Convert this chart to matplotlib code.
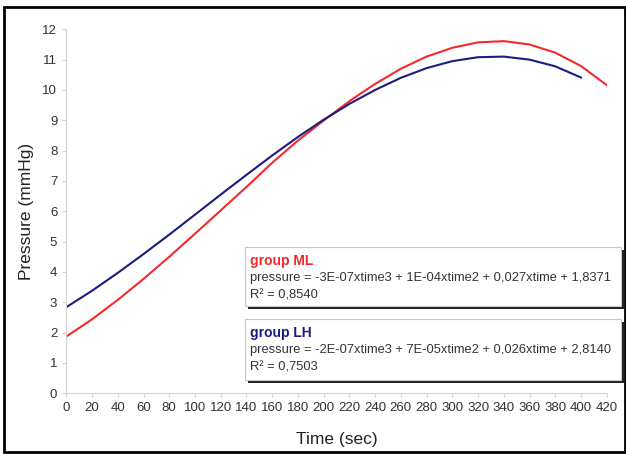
import matplotlib
matplotlib.use("Agg")
import matplotlib.pyplot as plt
from matplotlib.patches import Rectangle

plt.rcParams['font.family'] = ['Liberation Sans', 'DejaVu Sans']

# pressure readings (mmHg) every 20 s
time_ml = [0, 20, 40, 60, 80, 100, 120, 140, 160, 180, 200,
           220, 240, 260, 280, 300, 320, 340, 360, 380, 400, 420]
press_ml = [1.87, 2.44, 3.08, 3.77, 4.50, 5.26, 6.03, 6.80, 7.60, 8.33, 8.99,
            9.63, 10.20, 10.70, 11.10, 11.39, 11.57, 11.61, 11.50, 11.23, 10.79, 10.16]

time_lh = [0, 20, 40, 60, 80, 100, 120, 140, 160, 180, 200,
           220, 240, 260, 280, 300, 320, 340, 360, 380, 400]
press_lh = [2.84, 3.38, 3.97, 4.59, 5.23, 5.89, 6.55, 7.20, 7.84, 8.45, 9.02,
            9.54, 10.00, 10.40, 10.72, 10.95, 11.08, 11.10, 11.00, 10.78, 10.41]

xticks = list(range(0, 421, 20))
yticks = list(range(0, 13))

ml_label = "group ML"
ml_eq = "pressure = -3E-07xtime3 + 1E-04xtime2 + 0,027xtime + 1,8371"
ml_r2 = "R\u00b2 = 0,8540"
lh_label = "group LH"
lh_eq = "pressure = -2E-07xtime3 + 7E-05xtime2 + 0,026xtime + 2,8140"
lh_r2 = "R\u00b2 = 0,7503"

red = "#f42a2a"
blue = "#1c1c80"

W, H = 626, 454
fig = plt.figure(figsize=(W / 100, H / 100), dpi=100)


def fx(px):
    return px / W


def fy(py):
    return 1 - py / H


ax = fig.add_axes([fx(66.3), fy(393.3), fx(606.7) - fx(66.3), fy(29.3) - fy(393.3)])

ax.plot(time_ml, press_ml, color=red, lw=1.5)
ax.plot(time_lh, press_lh, color=blue, lw=1.5)

ax.set_xlim(0, 420)
ax.set_ylim(0, 12)
ax.set_xticks(xticks)
ax.set_yticks(yticks)
for s in ["top", "right"]:
    ax.spines[s].set_visible(False)
for s in ["left", "bottom"]:
    ax.spines[s].set_color("#d4d4d4")
    ax.spines[s].set_linewidth(0.8)
ax.tick_params(colors="#d4d4d4", labelcolor="#333333", labelsize=9.5, length=3)
ax.set_xlabel("Time (sec)", fontsize=12.5, color="#222222", labelpad=13)
ax.set_ylabel("Pressure (mmHg)", fontsize=12.5, color="#222222", labelpad=6)

# outer frame
fig.patches.append(Rectangle((fx(4), fy(452)), fx(625) - fx(4), fy(7) - fy(452),
                             transform=fig.transFigure, fill=False,
                             edgecolor="black", lw=2))


def legend_box(top, bottom, label, color, eq, r2):
    left, right = 245, 621
    # shadow
    fig.patches.append(Rectangle((fx(left + 3), fy(bottom + 3)), fx(right) - fx(left),
                                 fy(top) - fy(bottom), transform=fig.transFigure,
                                 facecolor="#222222", edgecolor="none", zorder=5))
    fig.patches.append(Rectangle((fx(left), fy(bottom)), fx(right) - fx(left),
                                 fy(top) - fy(bottom), transform=fig.transFigure,
                                 facecolor="white", edgecolor="#c8c8c8", lw=0.8, zorder=6))
    fig.text(fx(250), fy(top + 14), label, color=color, fontsize=10,
             fontweight="bold", va="center", zorder=7)
    fig.text(fx(250), fy(top + 31), eq, color="#333333", fontsize=9.3,
             va="center", zorder=7)
    fig.text(fx(250), fy(top + 48), r2, color="#333333", fontsize=9.3,
             va="center", zorder=7)


legend_box(247, 306, ml_label, red, ml_eq, ml_r2)
legend_box(319, 380, lh_label, blue, lh_eq, lh_r2)

fig.savefig("out.png", dpi=100)
